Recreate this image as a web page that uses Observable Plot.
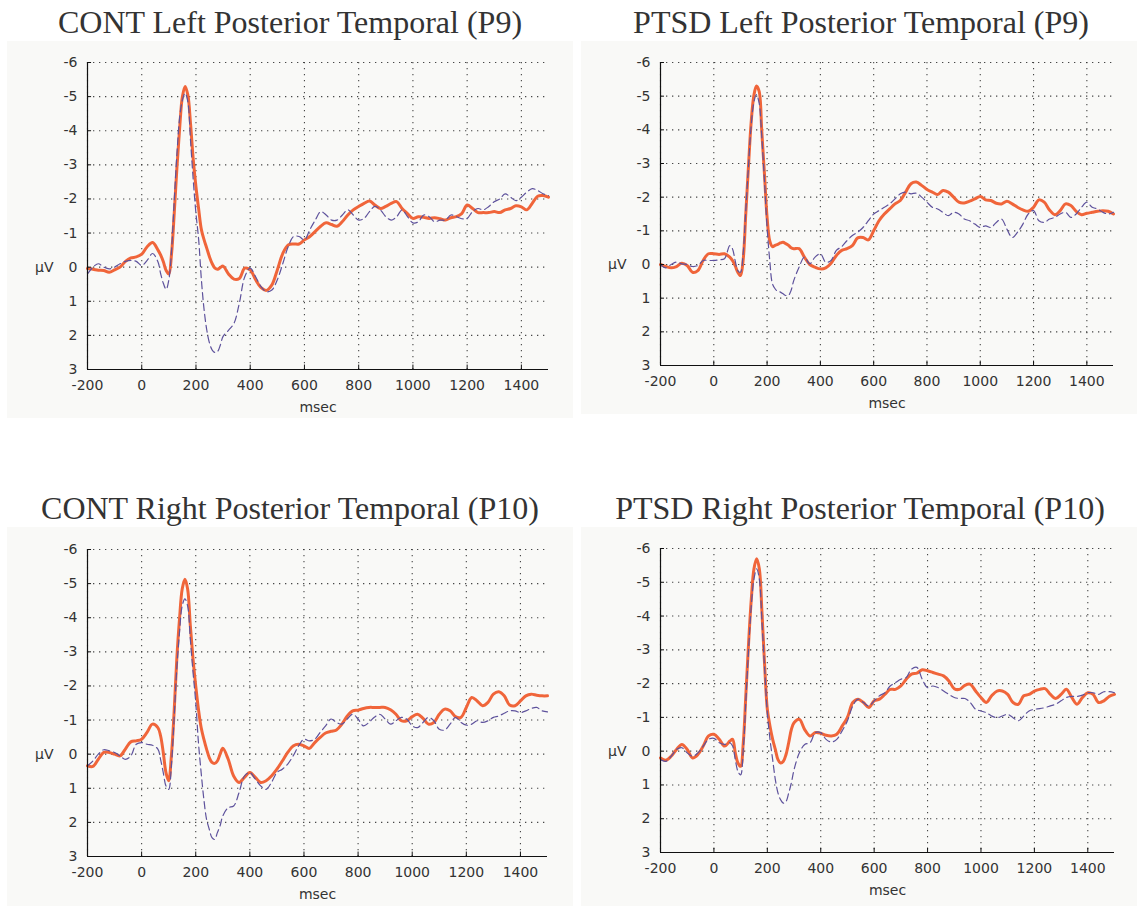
<!DOCTYPE html>
<html><head><meta charset="utf-8">
<script src="https://cdn.jsdelivr.net/npm/d3@7"></script>
<script src="https://cdn.jsdelivr.net/npm/@observablehq/plot@0.6"></script>
<style>
body{margin:0;background:#fff;width:1137px;height:906px;position:relative;overflow:hidden;}
.box{position:absolute;background:#f9f9f7;}
.box svg{display:block;}
.title{position:absolute;font-family:"Liberation Serif","Times New Roman",serif;font-size:32px;line-height:32px;color:#333;text-align:center;width:600px;white-space:nowrap;}
</style></head><body>
<script>
const times = [-200,-180,-160,-140,-120,-100,-80,-60,-40,-20,0,20,40,60,
70,80,90,100,110,120,130,140,150,160,170,180,190,200,210,220,230,240,250,260,270,280,290,300,
320,340,360,380,400,420,440,460,480,500,520,540,560,580,600,620,640,660,680,700,720,740,760,780,800,
820,840,860,880,900,920,940,960,980,1000,1020,1040,1060,1080,1100,1120,1140,1160,1180,1200,
1220,1240,1260,1280,1300,1320,1340,1360,1380,1400,1420,1440,1460,1480,1500];

const xTicks = [-200,0,200,400,600,800,1000,1200,1400];
const yTicks = [-6,-5,-4,-3,-2,-1,0,1,2,3];

const titles = ["CONT Left Posterior Temporal (P9)","PTSD Left Posterior Temporal (P9)",
  "CONT Right Posterior Temporal (P10)","PTSD Right Posterior Temporal (P10)"];

// solid (orange) and dashed (purple) traces, µV
const contP9Solid = [0.04,0.06,0.09,0.1,0.15,0.08,0,-0.17,-0.27,-0.3,-0.38,-0.6,-0.72,-0.5,
-0.35,-0.15,0.1,0.2,-0.4,-1.6,-2.95,-4.1,-5.0,-5.3,-5.05,-4.2,-3.15,-2.35,-1.7,-1.1,-0.8,-0.55,-0.3,-0.1,0.03,0.06,0.01,-0.03,
0.2,0.35,0.33,0.03,0.08, 0.37,0.6,0.68,0.52,0.08, -0.4,-0.65,-0.68,-0.68,-0.8, -0.9,-1.05,-1.2,-1.3,-1.25,
-1.2,-1.34,-1.53,-1.68,-1.78, -1.87,-1.94,-1.82,-1.72,-1.78, -1.87,-1.92,-1.72,-1.57,-1.43, -1.48,-1.46,-1.43,-1.45,-1.42,
-1.38,-1.45,-1.48,-1.57,-1.82, -1.72,-1.6,-1.6,-1.6,-1.63, -1.6,-1.68,-1.72,-1.8,-1.77, -1.68,-1.87,-2.08,-2.1,-2.05];
const contP9Dashed = [0.2,0,-0.1,0,0.05,0,-0.1,-0.17,-0.2,-0.17,-0.05,-0.2,-0.4,-0.15,
0.2,0.48,0.65,0.37,-0.5,-1.97,-3.35,-4.4,-4.9,-5.1,-4.85,-3.7,-2.55,-1.57,-0.8,0.37,1.25,1.85,2.23,2.43,2.5,2.47,2.28,2.03,
1.85,1.65,1.05,0.28,0.03, 0.28,0.57,0.72,0.67,0.37, -0.1,-0.6,-0.9,-0.9,-0.8, -1.1,-1.38,-1.63,-1.53,-1.38,
-1.38,-1.53,-1.68,-1.53,-1.38, -1.43,-1.63,-1.78,-1.68,-1.48, -1.38,-1.48,-1.68,-1.48,-1.3, -1.33,-1.53,-1.48,-1.33,-1.38,
-1.38,-1.53,-1.48,-1.42,-1.43, -1.63,-1.72,-1.68,-1.78,-1.92, -2.0,-2.15,-2.05,-1.95,-2.05, -2.2,-2.3,-2.25,-2.15,-2.1];

const ptsdP9Solid = [0,0.06,0.1,0.06,-0.04,0.03,0.23,0.18,-0.12,-0.32,-0.32,-0.3,-0.32,-0.22,
-0.12,0.03,0.23,0.33,-0.12,-1.5,-2.9,-4.2,-5.0,-5.3,-5.15,-3.97,-2.7,-1.4,-0.7,-0.53,-0.57,-0.6,-0.64,-0.66,-0.62,-0.57,-0.5,-0.47,
-0.47,-0.22,0,0.08,0.13, 0.1,-0.04,-0.27,-0.42,-0.47, -0.56,-0.79,-0.8,-0.73,-1.0, -1.3,-1.5,-1.65,-1.8,-1.9,
-2.15,-2.4,-2.45,-2.35,-2.23, -2.15,-2.08,-2.2,-2.15,-2.0, -1.85,-1.83,-1.88,-1.95,-2.02, -1.92,-1.9,-1.82,-1.8,-1.88,
-1.8,-1.7,-1.62,-1.58,-1.7, -1.92,-1.85,-1.62,-1.48,-1.6, -1.8,-1.75,-1.58,-1.48,-1.52, -1.55,-1.58,-1.6,-1.58,-1.5];
const ptsdP9Dashed = [0,0.1,0,-0.07,-0.02,0,0.06,0.03,-0.12,-0.12,-0.12,-0.14,-0.17,-0.56,
-0.47,-0.12,0.18,0.23,-0.32,-1.6,-2.9,-4.1,-4.8,-5.05,-4.8,-3.8,-2.5,-1.1,-0.12,0.57,0.72,0.8,0.82,0.87,0.92,0.92,0.77,0.48,
0.08,-0.22,-0.02,-0.22,-0.32, -0.07,-0.12,-0.42,-0.53,-0.71, -0.86,-0.96,-1.1,-1.3,-1.5, -1.6,-1.7,-1.8,-1.95,-2.1,
-2.15,-2.1,-2.12,-2.0,-1.85, -1.7,-1.65,-1.55,-1.45,-1.55, -1.5,-1.35,-1.3,-1.2,-1.1, -1.15,-1.1,-1.25,-1.35,-1.05,
-0.8,-0.96,-1.2,-1.5,-1.6, -1.3,-1.25,-1.35,-1.4,-1.5, -1.55,-1.4,-1.5,-1.7,-1.85, -1.7,-1.65,-1.55,-1.5,-1.55];

const contP10Solid = [0.34,0.36,0.15,-0.05,-0.05,0,0.05,-0.15,-0.36,-0.39,-0.44,-0.64,-0.88,-0.78,
-0.54,-0.05,0.54,0.78,0.05,-1.22,-2.79,-3.96,-4.84,-5.13,-4.84,-3.77,-2.79,-2.0,-1.32,-0.78,-0.44,-0.15,0.1,0.24,0.27,0.2,0,-0.17,
0.15,0.64,0.83,0.68,0.54, 0.68,0.83,0.78,0.64,0.44, 0.2,-0.05,-0.24,-0.29,-0.24, -0.17,-0.34,-0.49,-0.62,-0.67,
-0.71,-0.88,-1.12,-1.27,-1.29, -1.34,-1.37,-1.37,-1.37,-1.37, -1.3,-1.17,-0.98,-0.98,-1.1, -1.17,-1.05,-0.88,-0.93,-1.17,
-1.32,-1.27,-1.1,-1.08,-1.37, -1.66,-1.56,-1.42,-1.52,-1.76, -1.83,-1.71,-1.44,-1.42,-1.56, -1.71,-1.76,-1.73,-1.71,-1.71];
const contP10Dashed = [0.34,0.2,0,-0.13,-0.1,-0.05,0.05,0.15,0.05,-0.29,-0.34,-0.29,-0.26,-0.15,
0.15,0.54,0.93,1.03,0.34,-1.03,-2.5,-3.57,-4.35,-4.55,-4.35,-3.37,-2.4,-1.52,-0.34,0.54,1.32,1.91,2.2,2.45,2.5,2.3,2.1,1.81,
1.57,1.52,1.13,0.64,0.54, 0.73,0.93,1.03,0.83,0.54, 0.44,0.29,0.05,-0.24,-0.44, -0.39,-0.44,-0.64,-0.83,-1.03,
-0.93,-0.88,-1.03,-1.17,-1.03, -0.83,-0.93,-1.08,-1.17,-1.03, -0.88,-0.98,-1.08,-1.03,-0.83, -0.78,-0.93,-1.08,-0.98,-0.73,
-0.71,-0.88,-1.08,-0.93,-0.85, -0.88,-0.98,-0.93,-0.98,-1.08, -1.12,-1.2,-1.27,-1.27,-1.22, -1.27,-1.34,-1.37,-1.27,-1.24];

const ptsdP10Solid = [0.2,0.27,0.15,-0.05,-0.2,-0.05,0.2,0.1,-0.15,-0.45,-0.5,-0.35,-0.15,-0.3,
-0.35,0.05,0.35,0.45,-0.25,-1.73,-3.22,-4.5,-5.4,-5.7,-5.4,-4.1,-2.53,-1.24,-0.74,-0.35,-0.05,0.25,0.35,0.3,0.1,-0.25,-0.64,-0.84,
-0.94,-0.64,-0.45,-0.55,-0.53, -0.47,-0.45,-0.5,-0.74,-1.0, -1.44,-1.54,-1.44,-1.29,-1.49, -1.54,-1.68,-1.83,-1.83,-1.93,
-2.13,-2.28,-2.31,-2.41,-2.38, -2.33,-2.28,-2.23,-2.08,-1.85, -1.83,-1.95,-1.98,-1.78,-1.59, -1.44,-1.64,-1.78,-1.78,-1.68,
-1.44,-1.39,-1.64,-1.68,-1.78, -1.83,-1.85,-1.68,-1.56,-1.68, -1.83,-1.59,-1.39,-1.59,-1.73, -1.68,-1.44,-1.49,-1.62,-1.68];
const ptsdP10Dashed = [0.25,0.3,0.15,-0.05,-0.1,0.05,0.15,0.05,-0.15,-0.35,-0.38,-0.25,-0.2,-0.25,
-0.15,0.25,0.6,0.7,-0.05,-1.54,-3.02,-4.31,-5.1,-5.4,-5.1,-3.82,-2.43,-1.14,-0.35,0.25,0.84,1.24,1.44,1.54,1.49,1.24,0.94,0.55,
0.05,-0.2,-0.25,-0.55,-0.55, -0.35,-0.27,-0.35,-0.6,-0.9, -1.34,-1.54,-1.44,-1.34,-1.49, -1.64,-1.73,-1.93,-2.03,-2.13,
-2.18,-2.43,-2.48,-2.13,-1.88, -1.93,-1.88,-1.78,-1.68,-1.59, -1.56,-1.56,-1.44,-1.24,-1.19, -1.14,-1.04,-0.99,-1.04,-1.09,
-0.99,-0.9,-1.04,-1.19,-1.24, -1.26,-1.29,-1.34,-1.39,-1.49, -1.59,-1.62,-1.62,-1.66,-1.73, -1.73,-1.68,-1.76,-1.76,-1.73];

// layout of the four panels (box: left, top, width, height; margins: top, right, bottom, left)
const panels = [
  {title: titles[0], solid: contP9Solid,  dashed: contP9Dashed,  box: [7, 41, 566, 377],  m: [21, 25, 49, 80], cx: 290, ty: 6},
  {title: titles[1], solid: ptsdP9Solid,  dashed: ptsdP9Dashed,  box: [581, 41, 556, 373], m: [21, 24, 49, 79], cx: 861, ty: 6},
  {title: titles[2], solid: contP10Solid, dashed: contP10Dashed, box: [7, 527, 566, 379],  m: [22, 26, 50, 80], cx: 290, ty: 492},
  {title: titles[3], solid: ptsdP10Solid, dashed: ptsdP10Dashed, box: [581, 527, 556, 379], m: [21, 23, 54, 79], cx: 860, ty: 492}
];

const dot = {stroke: "#333", strokeOpacity: 0.9, strokeWidth: 1.1, strokeDasharray: "1.3,4.7"};
const font = "'DejaVu Sans', Verdana, sans-serif";

for (const p of panels) {
  const solidRows = times.map((t, i) => ({t, v: p.solid[i]}));
  const dashedRows = times.map((t, i) => ({t, v: p.dashed[i]}));
  const [bx, by, bw, bh] = p.box;
  const [mt, mr, mb, ml] = p.m;
  const div = document.createElement("div");
  div.className = "box";
  Object.assign(div.style, {left: bx + "px", top: by + "px", width: bw + "px", height: bh + "px"});
  const chart = Plot.plot({
    width: bw, height: bh,
    marginTop: mt, marginRight: mr, marginBottom: mb, marginLeft: ml,
    style: {background: "transparent", fontFamily: font, fontSize: "14px", color: "#333", overflow: "visible"},
    x: {domain: [-200, 1500]},
    y: {domain: [-6, 3], reverse: true},
    marks: [
      Plot.gridY(yTicks, dot),
      Plot.gridX(xTicks, dot),
      Plot.line(solidRows, {x: "t", y: "v", stroke: "#f0653a", strokeWidth: 3, curve: "catmull-rom"}),
      Plot.line(dashedRows, {x: "t", y: "v", stroke: "#5e529c", strokeWidth: 1.2, strokeDasharray: "7,4", curve: "catmull-rom"}),
      Plot.ruleX([-200], {stroke: "#111", strokeWidth: 1.2}),
      Plot.ruleY([3], {stroke: "#111", strokeWidth: 1.2}),
      Plot.ruleY(yTicks, {x1: -200, x2: -185, stroke: "#111"}),
      Plot.ruleX(xTicks, {y1: 3, y2: 2.87, stroke: "#111"}),
      Plot.axisY(yTicks, {tickSize: 0, tickPadding: 10, tickFormat: d => String(d), label: null, fontSize: 14, fill: "#333"}),
      Plot.axisX(xTicks, {tickSize: 0, tickPadding: 11, tickFormat: d => String(d), label: null, fontSize: 14, fill: "#333"}),
      Plot.text(["msec"], {frameAnchor: "bottom", dy: 42, fill: "#333", fontSize: 14}),
      Plot.text([0], {y: d => d, frameAnchor: "left", textAnchor: "end", dx: -34, text: () => "µV", fill: "#333", fontSize: 14})
    ]
  });
  div.appendChild(chart);
  document.body.appendChild(div);
  const t = document.createElement("div");
  t.className = "title";
  t.textContent = p.title;
  Object.assign(t.style, {left: (p.cx - 300) + "px", top: p.ty + "px"});
  document.body.appendChild(t);
}
</script>
</body></html>
